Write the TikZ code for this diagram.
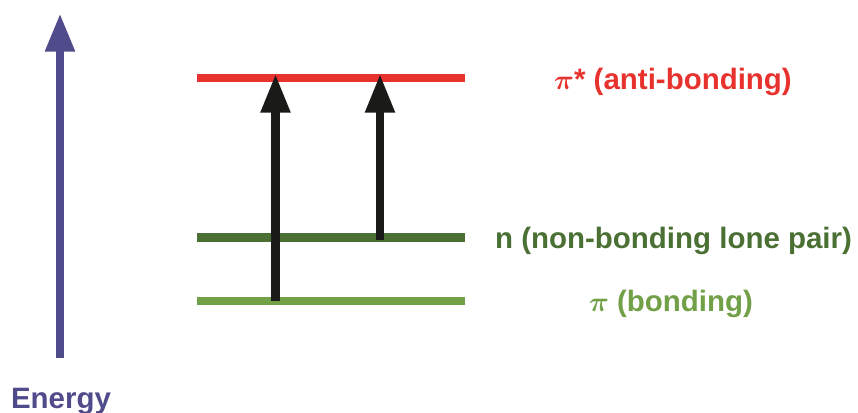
\documentclass[tikz,border=0pt]{standalone}
\usepackage{amsmath,amssymb}
\usepackage{xcolor}
\usepackage{fontspec}
\setmainfont{Liberation Sans}
\usepackage{tikz}
\usetikzlibrary{arrows.meta}

\definecolor{levred}{RGB}{232,50,46}
\definecolor{levdark}{RGB}{74,112,52}
\definecolor{levlight}{RGB}{113,160,70}
\definecolor{energyblue}{RGB}{80,75,138}
\definecolor{transblack}{RGB}{26,26,24}

\begin{document}
\begin{tikzpicture}[x=0.75pt, y=0.75pt]
  \tikzstyle{level} = [line width=6.4pt]
  \tikzstyle{levtext} = [font=\fontsize{22.1}{25}\selectfont\bfseries, anchor=base, inner sep=0pt]
  \tikzstyle{excite} = [line width=6.2pt, draw=transblack, -{Triangle[length=29pt,width=21pt]}]
  \tikzstyle{axis} = [line width=6.5pt, draw=energyblue, -{Triangle[length=28.8pt,width=21pt]}]
  \useasboundingbox (0,0) rectangle (858,413);

  % levels
  \coordinate (pistarL) at (197,335);
  \coordinate (pistarR) at (465,335);
  \coordinate (nL) at (197,175.5);
  \coordinate (nR) at (465,175.5);
  \coordinate (piL) at (197,112);
  \coordinate (piR) at (465,112);

  \draw [level, levred] (pistarL) -- (pistarR);
  \draw [level, levdark] (nL) -- (nR);
  \draw [level, levlight] (piL) -- (piR);

  \node (pistarlab) [levtext, text=levred] at (673,323.7) {$\boldsymbol{\pi}$* (anti-bonding)};
  \node (nlab) [levtext, text=levdark] at (673.5,164.7) {n (non-bonding lone pair)};
  \node (pilab) [levtext, text=levlight] at (671,101.3) {$\boldsymbol{\pi}$ (bonding)};

  % transitions
  \coordinate (pipi0) at (275.5,112);
  \coordinate (pipi1) at (275.5,339);
  \coordinate (npi0) at (380,173);
  \coordinate (npi1) at (380,339);
  \draw [excite] (pipi0) -- (pipi1);
  \draw [excite] (npi0) -- (npi1);

  % energy axis
  \node (energy) [levtext, text=energyblue] at (61,4.7) {Energy};
  \coordinate (ax0) at (60,55);
  \coordinate (ax1) at (60,399.7);
  \draw [axis] (ax0) -- (ax1);
\end{tikzpicture}
\end{document}
